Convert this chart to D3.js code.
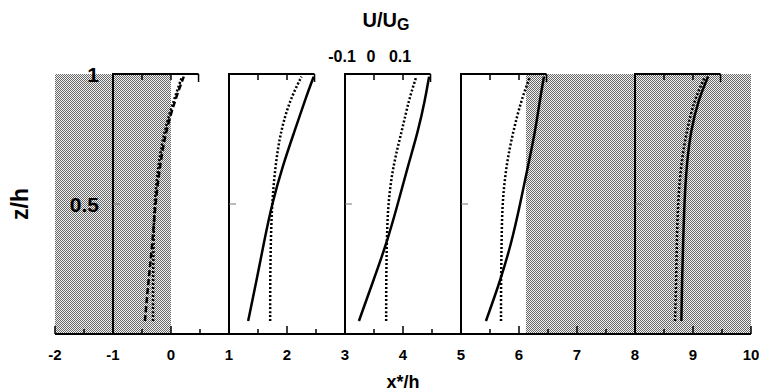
<!DOCTYPE html>
<html>
<head>
<meta charset="utf-8">
<script src="https://cdn.jsdelivr.net/npm/d3@7"></script>
<style>
  body { margin: 0; background: #fff; }
  svg { display: block; font-family: "Liberation Sans", Arial, sans-serif; font-weight: bold; }
</style>
</head>
<body>
<div class="board"></div>
<script>
// station positions x*/h where each profile frame starts
const stations = [-1, 1, 3, 5, 8];
const zLevels = [0.05, 0.2, 0.35, 0.5, 0.65, 0.78, 0.9, 0.99];
// U/UG for the solid curves (first station is drawn dashed)
const solidU = [
  [0.010, 0.022, 0.036, 0.046, 0.062, 0.082, 0.114, 0.144],
  [-0.034, -0.006, 0.020, 0.048, 0.086, 0.126, 0.162, 0.192],
  [-0.052, -0.004, 0.044, 0.082, 0.118, 0.152, 0.176, 0.190],
  [-0.014, 0.034, 0.074, 0.104, 0.132, 0.156, 0.172, 0.186],
  [0.060, 0.062, 0.066, 0.070, 0.078, 0.092, 0.118, 0.152]
];
// U/UG for the dotted curves
const dottedU = [
  [0.038, 0.038, 0.040, 0.042, 0.056, 0.076, 0.110, 0.138],
  [0.042, 0.042, 0.044, 0.048, 0.060, 0.078, 0.110, 0.150],
  [0.042, 0.042, 0.044, 0.048, 0.066, 0.096, 0.120, 0.146],
  [0.038, 0.038, 0.040, 0.042, 0.056, 0.080, 0.108, 0.138],
  [0.038, 0.042, 0.044, 0.048, 0.058, 0.078, 0.104, 0.142]
];
// shaded bands along x*/h
const shadeRanges = [[-2, 0], [6.12, 10]];
const xTicks = [-2, -1, 0, 1, 2, 3, 4, 5, 6, 7, 8, 9, 10];
const zTicks = [0.5, 1];
const uTickLabels = [-0.1, 0, 0.1];

const width = 759, height = 391;
const svg = d3.select('.board').append('svg')
  .attr('width', width)
  .attr('height', height);

const x = d3.scaleLinear().domain([-2, 10]).range([55, 751]);
const y = d3.scaleLinear().domain([0, 1]).range([334, 74]);

// each frame: U/UG -0.1 at the station, 0.1 per half unit of x*/h
function uScale(station) {
  return d3.scaleLinear().domain([-0.1, 0.2]).range([x(station), x(station + 1.5)]);
}

// stipple pattern for the shaded zones
const pat = svg.append('defs').append('pattern')
  .attr('id', 'stipple')
  .attr('width', 2).attr('height', 2)
  .attr('patternUnits', 'userSpaceOnUse');
pat.append('rect').attr('width', 2).attr('height', 2).attr('fill', '#f2f2f2');
pat.append('rect').attr('x', 0).attr('y', 0).attr('width', 1).attr('height', 1).attr('fill', '#686868');
pat.append('rect').attr('x', 1).attr('y', 1).attr('width', 1).attr('height', 1).attr('fill', '#686868');

svg.selectAll('rect.shade')
  .data(shadeRanges).enter()
  .append('rect')
    .attr('class', 'shade')
    .attr('x', d => x(d[0]))
    .attr('y', y(1))
    .attr('width', d => x(d[1]) - x(d[0]))
    .attr('height', y(0) - y(1))
    .attr('fill', 'url(#stipple)');

// bottom axis
const xAxis = svg.append('g').attr('transform', `translate(0,${y(0)})`);
xAxis.append('line')
  .attr('x1', x(-2)).attr('x2', x(10))
  .attr('stroke', '#000').attr('stroke-width', 2);
xAxis.selectAll('line.tick')
  .data(d3.range(-2, 10.01, 0.5)).enter()
  .append('line')
    .attr('class', 'tick')
    .attr('x1', d => x(d)).attr('x2', d => x(d))
    .attr('y1', 0)
    .attr('y2', d => Number.isInteger(d) ? -8 : -5)
    .attr('stroke', '#000').attr('stroke-width', 1.5);
xAxis.selectAll('text')
  .data(xTicks).enter()
  .append('text')
    .attr('x', d => x(d))
    .attr('y', 26)
    .attr('text-anchor', 'middle')
    .attr('font-size', 15)
    .text(d => d);

svg.append('text')
  .attr('x', x(4))
  .attr('y', 388)
  .attr('text-anchor', 'middle')
  .attr('font-size', 18)
  .text('x*/h');

// left labels
svg.selectAll('text.zlab')
  .data(zTicks).enter()
  .append('text')
    .attr('class', 'zlab')
    .attr('x', 99)
    .attr('y', d => y(d))
    .attr('dy', '0.36em')
    .attr('text-anchor', 'end')
    .attr('font-size', 21)
    .text(d => d);

svg.append('text')
  .attr('transform', `translate(28,${y(0.5)}) rotate(-90)`)
  .attr('text-anchor', 'middle')
  .attr('font-size', 23)
  .text('z/h');

// top title and U scale labels
const title = svg.append('text')
  .attr('x', 386)
  .attr('y', 27)
  .attr('text-anchor', 'middle')
  .attr('font-size', 20);
title.append('tspan').text('U/U');
title.append('tspan').attr('font-size', 16).attr('dy', 3).text('G');

const u3 = uScale(stations[2]);
svg.selectAll('text.ulab')
  .data(uTickLabels).enter()
  .append('text')
    .attr('class', 'ulab')
    .attr('x', d => u3(d) - 3)
    .attr('y', 62)
    .attr('text-anchor', 'middle')
    .attr('font-size', 16)
    .text(d => d);

const line = d3.line().curve(d3.curveBasis);

stations.forEach((s, i) => {
  const u = uScale(s);
  const g = svg.append('g');

  // frame: station line and top bar with ticks
  g.append('line')
    .attr('x1', x(s)).attr('x2', x(s))
    .attr('y1', y(0)).attr('y2', y(1))
    .attr('stroke', '#000').attr('stroke-width', 2);
  g.append('line')
    .attr('x1', x(s) - 1).attr('x2', u(0.195))
    .attr('y1', y(1)).attr('y2', y(1))
    .attr('stroke', '#000').attr('stroke-width', 2);
  g.selectAll('line.ut')
    .data([0, 0.1]).enter()
    .append('line')
      .attr('x1', d => u(d)).attr('x2', d => u(d))
      .attr('y1', y(1)).attr('y2', y(1) + 6)
      .attr('stroke', '#000').attr('stroke-width', 1.5);
  g.append('line')
    .attr('x1', u(0.195)).attr('x2', u(0.195))
    .attr('y1', y(1)).attr('y2', y(1) + 8)
    .attr('stroke', '#000').attr('stroke-width', 1.5);
  g.append('line')
    .attr('x1', x(s)).attr('x2', x(s) + 7)
    .attr('y1', y(0.5)).attr('y2', y(0.5))
    .attr('stroke', '#777').attr('stroke-width', 1);

  g.append('path')
    .attr('d', line(zLevels.map((z, j) => [u(solidU[i][j]), y(z)])))
    .attr('fill', 'none')
    .attr('stroke', '#000')
    .attr('stroke-width', 2.5)
    .attr('stroke-dasharray', i === 0 ? '6,3' : null);

  g.append('path')
    .attr('d', line(zLevels.map((z, j) => [u(dottedU[i][j]), y(z)])))
    .attr('fill', 'none')
    .attr('stroke', '#000')
    .attr('stroke-width', 2.5)
    .attr('stroke-dasharray', '2,2');
});
</script>
</body>
</html>
